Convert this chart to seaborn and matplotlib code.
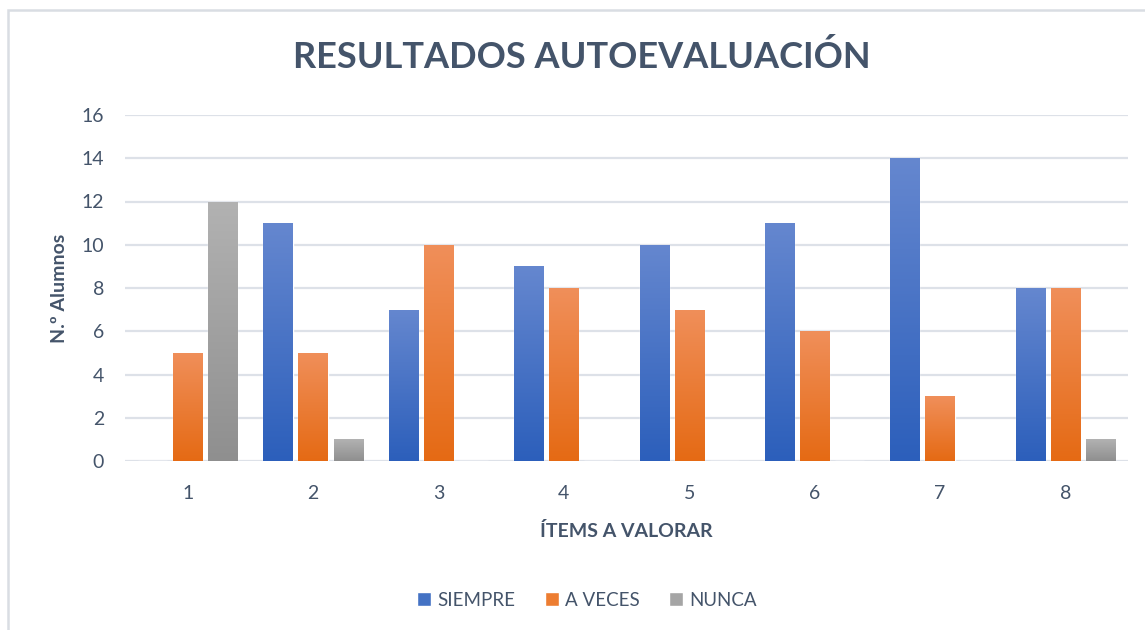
import numpy as np
import pandas as pd
import matplotlib
matplotlib.use("Agg")
import matplotlib.pyplot as plt
import matplotlib.patches as mpatches
from matplotlib.colors import LinearSegmentedColormap
import seaborn as sns

items = ["1", "2", "3", "4", "5", "6", "7", "8"]
series = ["SIEMPRE", "A VECES", "NUNCA"]
siempre = [0, 11, 7, 9, 10, 11, 14, 8]
a_veces = [5, 5, 10, 8, 7, 6, 3, 8]
nunca = [12, 1, 0, 0, 0, 0, 0, 1]
yticks = [0, 2, 4, 6, 8, 10, 12, 14, 16]

title = "RESULTADOS AUTOEVALUACIÓN"
xlabel = "ÍTEMS A VALORAR"
ylabel = "N.º Alumnos"

# gradient (top, bottom) colours
grad = {
    "SIEMPRE": ("#6587CF", "#2C5FBB"),
    "A VECES": ("#F08F5A", "#E56A14"),
    "NUNCA": ("#B2B2B2", "#8F8F8F"),
}
solid = {"SIEMPRE": "#4472C4", "A VECES": "#ED7D31", "NUNCA": "#A5A5A5"}

df = pd.DataFrame({
    "item": items * 3,
    "serie": [s for s in series for _ in items],
    "valor": siempre + a_veces + nunca,
})

sns.set_theme(style="white")
plt.rcParams["font.family"] = ["Lato", "DejaVu Sans"]
txt = "#44546A"

fig = plt.figure(figsize=(11.45, 6.3), dpi=100)
ax = fig.add_axes([125 / 1145, (630 - 461) / 630, (1128 - 125) / 1145, (461 - 115) / 630])

sns.barplot(data=df, x="item", y="valor", hue="serie", hue_order=series,
            palette=solid, width=0.84, gap=0.17, ax=ax, legend=False,
            saturation=1, errorbar=None)

ax.set_ylim(0, 16)
ax.set_xlim(-0.5, 7.5)
ax.set_yticks(yticks)
ax.set_yticklabels([str(v) for v in yticks])
ax.yaxis.grid(True, color="#DDE1E8", linewidth=1.6)
ax.set_axisbelow(True)
for s in ax.spines.values():
    s.set_visible(False)
ax.tick_params(axis="both", length=0, labelsize=14, labelcolor=txt)
ax.tick_params(axis="y", pad=15)
ax.tick_params(axis="x", pad=17)

# gradient fill inside each bar
nitems = len(items)
for i, patch in enumerate(ax.patches[:len(series) * nitems]):
    serie = series[i // nitems]
    top, bot = grad[serie]
    cmap = LinearSegmentedColormap.from_list("g", [bot, top])
    x0, y0 = patch.get_x(), patch.get_y()
    w, h = patch.get_width(), patch.get_height()
    if h <= 0:
        continue
    img = ax.imshow(np.linspace(0, 1, 256).reshape(-1, 1), cmap=cmap,
                    extent=[x0, x0 + w, y0, y0 + h], origin="lower",
                    aspect="auto", zorder=patch.get_zorder() + 0.1)
    img.set_clip_path(patch)
ax.set_xlim(-0.5, 7.5)
ax.set_ylim(0, 16)

ax.set_xlabel(xlabel, fontsize=14, fontweight="bold", color=txt, labelpad=15)
ax.set_ylabel(ylabel, fontsize=14, fontweight="bold", color=txt, labelpad=10)

fig.text(582 / 1145, 1 - 57 / 630, title, ha="center", va="center",
         fontsize=26, fontweight="bold", color=txt)

handles = [mpatches.Patch(facecolor=solid[s], label=s) for s in series]
leg = fig.legend(handles=handles, loc="center", bbox_to_anchor=(587 / 1145, 1 - 600 / 630),
                 ncol=3, frameon=False, fontsize=13.5, handlelength=0.75, handleheight=0.75,
                 handletextpad=0.3, columnspacing=1.6)
for t in leg.get_texts():
    t.set_color(txt)

# outer chart border
fig.add_artist(mpatches.Rectangle((7.5 / 1145, -0.1), 1.2, 1.1 - 10 / 630,
                                  transform=fig.transFigure, fill=False,
                                  edgecolor="#D9DDE3", linewidth=1.8))

fig.savefig("out.png", dpi=100)
